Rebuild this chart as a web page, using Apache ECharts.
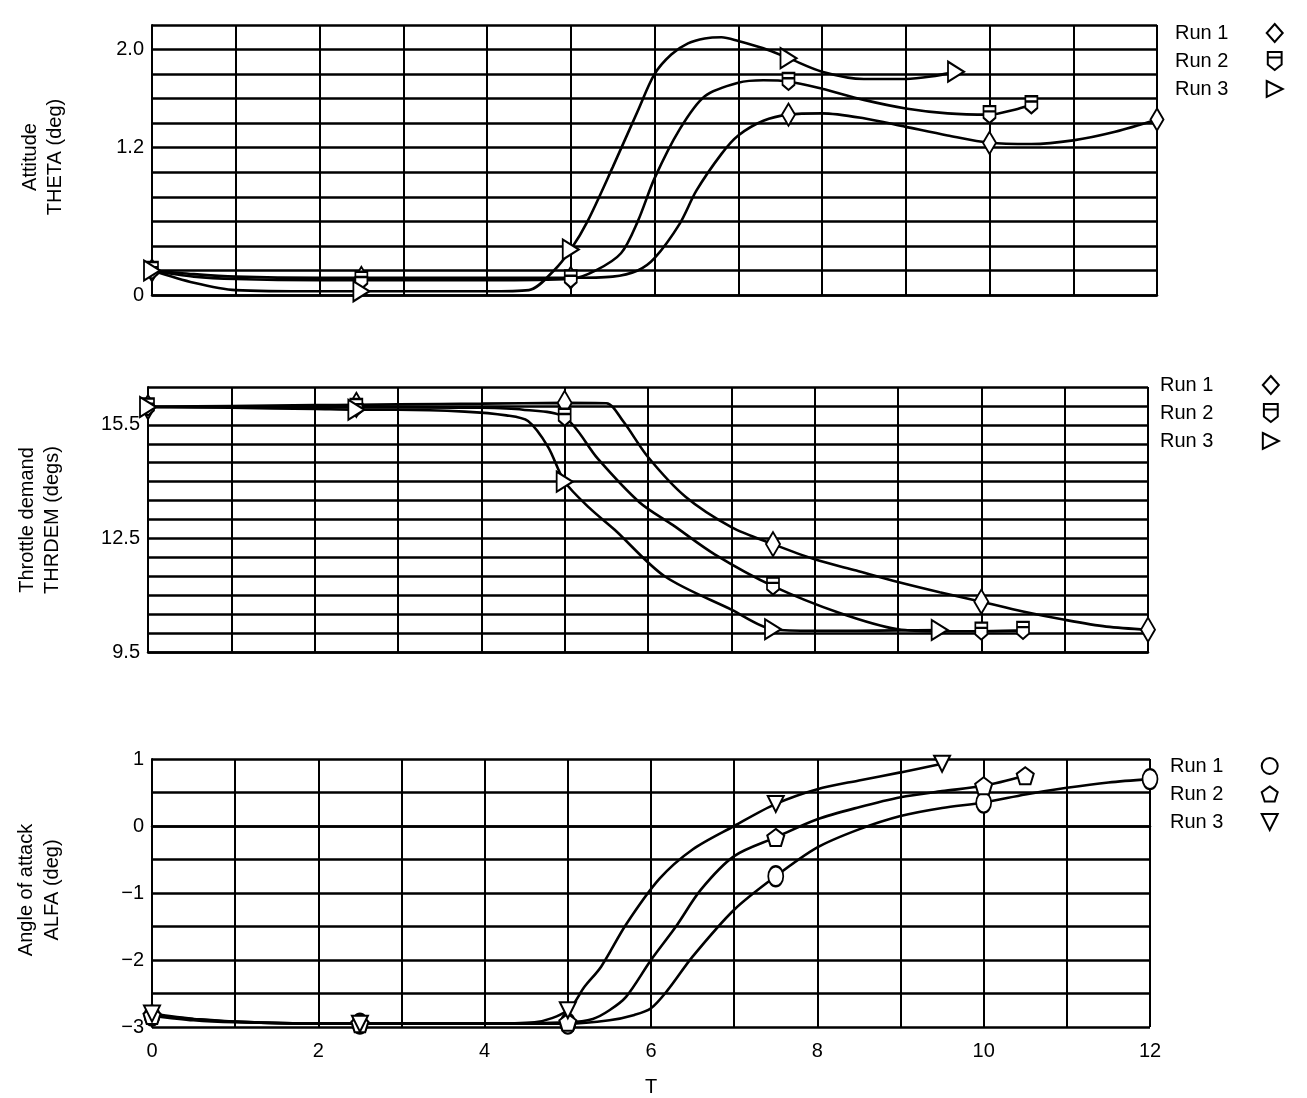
<!DOCTYPE html>
<html><head><meta charset="utf-8">
<script src="https://cdn.jsdelivr.net/npm/echarts@6/dist/echarts.min.js"></script>
<style>html,body{margin:0;padding:0;background:#fff}#c{width:1307px;height:1098px}</style>
</head><body><div id="c"></div>
<script>
// ---------- DATA ----------
const runNames = ['Run 1', 'Run 2', 'Run 3'];
const xTickLabels = [0, 2, 4, 6, 8, 10, 12];

// Attitude THETA (deg)
const thetaT1 = [0,0.5,1,2,2.5,3,4,5,5.5,5.8,6,6.3,6.5,6.8,7,7.3,7.6,8,8.5,9,9.5,10,10.5,11,11.5,12];
const thetaV1 = [0.2,0.17,0.15,0.14,0.14,0.14,0.14,0.14,0.15,0.2,0.3,0.58,0.85,1.15,1.3,1.42,1.47,1.48,1.44,1.37,1.3,1.24,1.23,1.26,1.33,1.43];
const thetaM1 = [0,2.5,5,7.6,10,12];
const thetaT2 = [0,0.5,1,2,2.5,3,4,5,5.3,5.6,5.8,6,6.3,6.6,7,7.3,7.6,8,8.5,9,9.5,10,10.3,10.5];
const thetaV2 = [0.2,0.15,0.13,0.12,0.12,0.12,0.12,0.13,0.2,0.34,0.6,0.95,1.35,1.62,1.73,1.75,1.74,1.68,1.59,1.52,1.48,1.47,1.51,1.55];
const thetaM2 = [0,2.5,5,7.6,10,10.5];
const thetaT3 = [0,0.5,1,2,2.5,3,4,4.5,4.8,5,5.2,5.5,5.8,6,6.2,6.4,6.6,6.8,7,7.3,7.6,8,8.5,9,9.3,9.6];
const thetaV3 = [0.2,0.1,0.04,0.03,0.03,0.03,0.03,0.04,0.2,0.37,0.6,1.04,1.5,1.8,1.96,2.05,2.09,2.1,2.07,2.01,1.93,1.82,1.76,1.76,1.78,1.82];
const thetaM3 = [0,2.5,5,7.6,9.6];

// Throttle demand THRDEM (degs)
const thrT1 = [0,1,2,2.5,3,4,5,5.5,5.7,6,6.45,7,7.5,8,8.5,9,9.5,10,10.5,11,11.5,12];
const thrV1 = [15.97,16.0,16.02,16.03,16.04,16.06,16.08,16.07,15.6,14.65,13.6,12.8,12.35,11.95,11.65,11.35,11.08,10.83,10.57,10.35,10.17,10.09];
const thrM1 = [0,2.5,5,7.5,10,12];
const thrT2 = [0,1,2,2.5,3,4,4.5,5,5.4,5.9,6.3,6.8,7.5,8.3,9,9.5,10,10.5];
const thrV2 = [15.97,15.97,15.96,15.96,15.96,15.95,15.9,15.7,14.6,13.45,12.85,12.08,11.24,10.53,10.1,10.05,10.05,10.07];
const thrM2 = [0,2.5,5,7.5,10,10.5];
const thrT3 = [0,1,2,2.5,3,3.8,4.3,4.56,4.8,5,5.3,5.6,6.2,7,7.5,8,8.5,9,9.5];
const thrV3 = [15.97,15.95,15.92,15.9,15.9,15.85,15.75,15.6,14.92,14.0,13.3,12.73,11.5,10.62,10.1,10.06,10.06,10.07,10.08];
const thrM3 = [0,2.5,5,7.5,9.5];

// Angle of attack ALFA (deg)
const alfaT1 = [0,0.5,1,2,2.5,3,4,5,5.5,5.8,6,6.2,6.5,7,7.5,8,8.5,9,9.5,10,10.5,11,11.5,12];
const alfaV1 = [-2.83,-2.88,-2.92,-2.95,-2.95,-2.95,-2.95,-2.95,-2.9,-2.82,-2.72,-2.45,-1.95,-1.25,-0.75,-0.32,-0.05,0.15,0.27,0.35,0.47,0.57,0.65,0.7];
const alfaM1 = [0,2.5,5,7.5,10,12];
const alfaT2 = [0,0.5,1,2,2.5,3,4,5,5.3,5.5,5.7,6,6.3,6.6,7,7.5,8,8.5,9,9.5,10,10.5];
const alfaV2 = [-2.83,-2.9,-2.93,-2.95,-2.95,-2.95,-2.95,-2.93,-2.88,-2.75,-2.55,-2.0,-1.5,-0.95,-0.45,-0.17,0.1,0.28,0.43,0.52,0.6,0.75];
const alfaM2 = [0,2.5,5,7.5,10,10.5];
const alfaT3 = [0,0.5,1,2,2.5,3,4,4.6,5,5.2,5.4,5.7,6.1,6.5,7,7.5,8,8.5,9,9.5];
const alfaV3 = [-2.8,-2.88,-2.92,-2.95,-2.95,-2.95,-2.95,-2.93,-2.75,-2.4,-2.1,-1.47,-0.79,-0.35,0.0,0.33,0.55,0.68,0.8,0.93];
const alfaM3 = [0,2.5,5,7.5,9.5];

// ---------- CHART ----------
const FONT = '"Liberation Sans", Arial, Helvetica, sans-serif';
const pentagon = 'path://M0,-10 L9.5,-3.1 L5.9,8.1 L-5.9,8.1 L-9.5,-3.1 Z';
const shield = 'path://M0,0 L10,0 L10,9 L5,13 L0,9 Z M0,4 L10,4';

function build(T, V, marks) {
  return T.map((t, i) => {
    const on = marks.some(m => Math.abs(m - t) < 1e-9);
    return on ? { value: [t, V[i]] } : { value: [t, V[i]], symbol: 'none' };
  });
}
function mkSeries(name, idx, T, V, M, symbol, size, rotate) {
  return {
    name: name, type: 'line', xAxisIndex: idx, yAxisIndex: idx,
    data: build(T, V, M), smooth: 0.3,
    symbol: symbol, symbolSize: size, symbolRotate: rotate || 0,
    showAllSymbol: true,
    lineStyle: { color: '#000', width: 2.6 },
    itemStyle: { color: '#fff', borderColor: '#000', borderWidth: 2 },
    emphasis: { disabled: true }, animation: false, z: 3
  };
}
const grids = [
  { left: 152, top: 25, width: 1005, height: 270 },
  { left: 148, top: 387, width: 1000, height: 265 },
  { left: 152, top: 759, width: 998, height: 271 }
];
function xAx(i) {
  return {
    type: 'value', gridIndex: i, min: 0, max: 12, interval: 1,
    axisLine: { show: true, lineStyle: { color: '#000', width: 2.5 } },
    axisTick: { show: false },
    splitLine: { show: true, lineStyle: { color: '#000', width: 2 } },
    axisLabel: i === 2 ? {
      show: true, margin: 14, color: '#000', fontSize: 20, fontFamily: FONT,
      formatter: v => (xTickLabels.indexOf(v) >= 0 ? String(v) : '')
    } : { show: false },
    name: i === 2 ? 'T' : '', nameLocation: 'middle', nameGap: 50,
    nameTextStyle: { color: '#000', fontSize: 20, fontFamily: FONT }
  };
}
function yAx(i, min, max, step, fmt) {
  return {
    type: 'value', gridIndex: i, min: min, max: max, interval: step,
    axisLine: { show: true, lineStyle: { color: '#000', width: 2 } },
    axisTick: { show: false },
    splitLine: { show: true, lineStyle: { color: '#000', width: 2.6 } },
    axisLabel: { margin: 8, color: '#000', fontSize: 20, fontFamily: FONT, formatter: fmt }
  };
}
const near = (a, b) => Math.abs(a - b) < 1e-6;
const yFmt0 = v => near(v, 0) ? '0' : near(v, 1.2) ? '1.2' : near(v, 2) ? '2.0' : '';
const yFmt1 = v => (near(v, 9.5) || near(v, 12.5) || near(v, 15.5)) ? v.toFixed(1) : '';
const yFmt2 = v => near(v, Math.round(v)) ? (v < 0 ? '\u2212' + Math.abs(Math.round(v)) : String(Math.round(v))) : '';

function legend(left, top, icons, pad) {
  return {
    left: left, top: top, orient: 'vertical', align: 'right', itemGap: 8,
    itemWidth: 16, itemHeight: 18, selectedMode: false,
    data: runNames.map((n, k) => ({ name: n, icon: icons[k] })),
    formatter: n => n + pad,
    textStyle: { color: '#000', fontSize: 20, fontFamily: FONT, lineHeight: 20 },
    itemStyle: { color: '#fff', borderColor: '#000', borderWidth: 2 },
    lineStyle: { width: 0, opacity: 0 }
  };
}
const triR = 'path://M0,0 L14,7 L0,14 Z';
const triD = 'path://M0,0 L14,0 L7,14 Z';

const option = {
  animation: false,
  backgroundColor: '#fff',
  grid: grids,
  xAxis: [xAx(0), xAx(1), xAx(2)],
  yAxis: [yAx(0, 0, 2.2, 0.2, yFmt0), yAx(1, 9.5, 16.5, 0.5, yFmt1), yAx(2, -3, 1, 0.5, yFmt2)],
  legend: [
    legend(1170, 18, ['diamond', shield, triR], '      '),
    legend(1155, 370, ['diamond', shield, triR], '        '),
    legend(1165, 751, ['circle', pentagon, triD], '      ')
  ],
  graphic: [
    { type: 'text', x: 43, y: 157, rotation: Math.PI / 2,
      style: { text: 'Attitude\nTHETA (deg)', fill: '#000', font: '20px ' + FONT, textAlign: 'center', textVerticalAlign: 'middle', lineHeight: 25 } },
    { type: 'text', x: 40, y: 520, rotation: Math.PI / 2,
      style: { text: 'Throttle demand\nTHRDEM (degs)', fill: '#000', font: '20px ' + FONT, textAlign: 'center', textVerticalAlign: 'middle', lineHeight: 25 } },
    { type: 'text', x: 39, y: 890, rotation: Math.PI / 2,
      style: { text: 'Angle of attack\nALFA (deg)', fill: '#000', font: '20px ' + FONT, textAlign: 'center', textVerticalAlign: 'middle', lineHeight: 26 } }
  ],
  series: [
    mkSeries('Run 1', 0, thetaT1, thetaV1, thetaM1, 'diamond', [13, 22]),
    mkSeries('Run 2', 0, thetaT2, thetaV2, thetaM2, shield, [12, 17]),
    mkSeries('Run 3', 0, thetaT3, thetaV3, thetaM3, 'triangle', [20, 16], -90),
    mkSeries('Run 1', 1, thrT1, thrV1, thrM1, 'diamond', [14, 24]),
    mkSeries('Run 2', 1, thrT2, thrV2, thrM2, shield, [12, 17]),
    mkSeries('Run 3', 1, thrT3, thrV3, thrM3, 'triangle', [20, 16], -90),
    mkSeries('Run 1', 2, alfaT1, alfaV1, alfaM1, 'circle', [15, 20]),
    mkSeries('Run 2', 2, alfaT2, alfaV2, alfaM2, pentagon, [17, 17]),
    mkSeries('Run 3', 2, alfaT3, alfaV3, alfaM3, 'triangle', [16, 16], 180)
  ]
};
const chart = echarts.init(document.getElementById('c'), null, { renderer: 'canvas' });
chart.setOption(option);
</script>
</body></html>
